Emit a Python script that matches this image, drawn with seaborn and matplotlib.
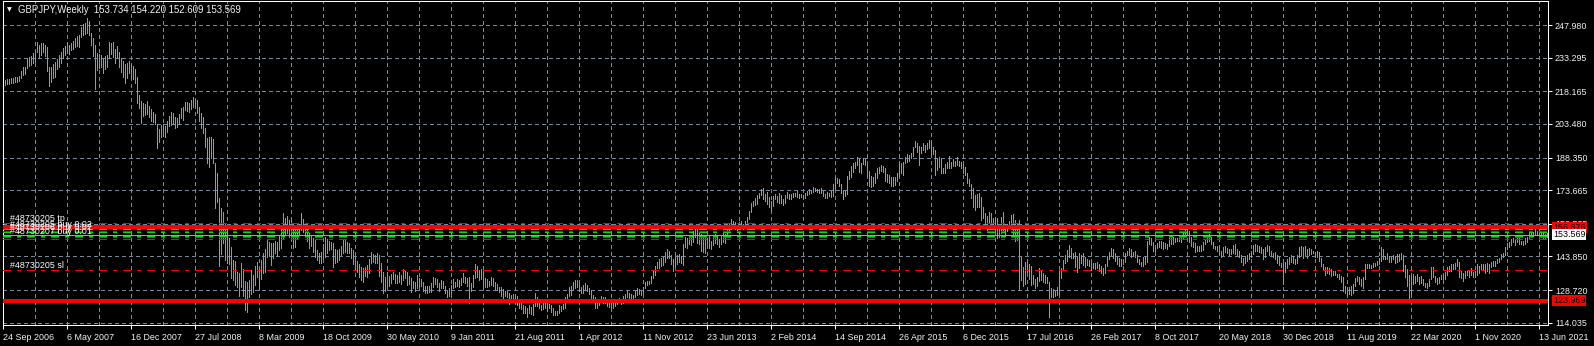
import numpy as np
import pandas as pd
import matplotlib
matplotlib.use("Agg")
import matplotlib.pyplot as plt
import matplotlib.transforms as mtransforms
import seaborn as sns

# ---------------- data (weekly GBPJPY highs / lows) ----------------
hi_2006 = [222.5, 223.2, 223.5, 223.8, 224.0, 224.3, 224.7, 224.5, 225.0, 227.5, 229.2, 229.0, 232.5, 233.6, 234.2]
lo_2006 = [219.8, 221.0, 221.3, 221.5, 221.8, 222.0, 222.5, 222.2, 222.6, 224.0, 225.5, 226.0, 228.6, 229.5, 230.0]

hi_2007 = [235.4, 236.0, 240.5, 239.0, 240.0, 239.7, 239.0, 238.2, 229.2, 229.2, 230.5, 231.5, 232.5,
           234.5, 236.0, 237.5, 238.5, 239.7, 239.0, 239.7, 241.0, 242.0, 243.0, 243.5,
           247.2, 248.5, 249.0, 251.0, 250.0, 244.4, 242.0, 239.0,
           235.4, 235.0, 234.5, 233.0, 234.0, 234.5, 240.4, 240.0, 240.2, 237.0, 238.5,
           236.0, 233.0, 232.0, 230.5, 231.0, 232.0, 230.5, 229.5, 228.0]
lo_2007 = [230.9, 231.5, 236.0, 233.0, 234.5, 236.0, 234.0, 227.5, 220.5, 222.5, 224.0, 224.7, 228.0,
           229.0, 231.0, 233.0, 234.5, 235.4, 235.0, 236.7, 237.0, 238.0, 238.5, 238.0,
           242.7, 243.5, 244.0, 244.2, 243.5, 239.0, 234.0, 219.0,
           227.7, 228.5, 229.2, 226.5, 228.0, 229.0, 233.0, 235.0, 233.5, 231.0, 233.5,
           229.0, 227.0, 224.6, 222.0, 224.0, 226.5, 224.0, 223.5, 221.8]

hi_2008 = [224.6, 216.5, 214.0, 213.0, 212.5, 214.0, 211.5, 210.0, 209.0, 208.0, 203.5, 201.0, 203.0,
           203.5, 202.5, 205.0, 207.0, 209.0, 208.5, 206.5, 206.0, 208.0, 210.5, 211.2, 213.5, 213.5,
           212.7, 214.2, 215.7, 214.5, 214.2, 211.2, 208.5, 206.7, 201.5, 197.0, 197.7, 197.5, 196.5,
           185.7, 181.2, 170.0, 165.5, 164.0, 158.7, 156.0, 152.0, 148.2, 142.2, 142.0, 137.0, 136.5]
lo_2008 = [212.7, 210.5, 204.0, 207.0, 207.5, 208.0, 206.5, 205.0, 204.5, 203.5, 192.5, 195.5, 197.5,
           198.0, 197.6, 200.0, 202.5, 203.0, 203.5, 201.5, 202.0, 203.5, 206.0, 205.2, 209.7, 209.5,
           209.0, 210.0, 211.2, 210.5, 208.2, 205.0, 201.5, 199.5, 193.0, 185.7, 184.2, 188.0, 185.7,
           165.5, 168.5, 139.5, 145.0, 150.0, 142.2, 141.0, 140.5, 134.0, 133.2, 131.0, 130.0, 126.0]

hi_2009 = [141.0, 138.0, 133.0, 132.5, 133.2, 137.7, 135.5, 139.5, 141.5, 138.5, 142.2, 145.5, 147.0,
           151.2, 150.5, 149.7, 150.0, 151.0, 150.2, 153.0, 156.0, 163.2, 161.0, 162.0, 160.2, 160.5,
           158.7, 156.5, 157.0, 158.0, 163.2, 160.5, 158.7, 156.0, 154.2, 153.0, 152.0, 151.2, 146.7,
           145.5, 146.0, 149.5, 152.7, 151.5, 151.0, 150.5, 149.7, 147.0, 146.7, 147.0, 148.5, 151.2]
lo_2009 = [130.0, 126.0, 119.8, 119.0, 125.5, 127.0, 128.0, 131.0, 134.7, 128.7, 133.5, 136.2, 137.0,
           143.8, 144.5, 140.0, 143.0, 145.5, 144.0, 146.7, 147.5, 152.0, 153.5, 154.2, 152.5, 153.0,
           147.5, 148.2, 152.0, 153.5, 155.7, 155.0, 152.5, 151.0, 147.5, 148.5, 146.0, 143.8, 142.2,
           140.7, 141.0, 143.0, 143.8, 145.5, 146.7, 147.0, 139.2, 141.0, 141.5, 142.2, 144.5, 145.2]

hi_2010 = [151.2, 150.5, 150.0, 147.5, 146.7, 143.7, 142.0, 140.5, 139.2, 138.5, 139.0, 139.8, 142.5,
           146.0, 145.0, 144.5, 145.2, 144.5, 140.7, 137.0, 134.5, 137.0, 135.0, 136.0, 137.0,
           136.0, 135.5, 137.0, 135.5, 138.0, 137.5, 137.0, 135.0, 134.0, 133.0, 132.5, 135.5, 134.0,
           133.8, 132.5, 130.5, 130.5, 130.7, 132.0, 134.7, 134.0, 133.5, 132.0, 133.2, 133.0, 130.5, 128.5]
lo_2010 = [146.0, 145.5, 145.2, 143.0, 140.5, 137.7, 137.0, 134.7, 133.2, 132.5, 135.0, 134.5, 136.5,
           140.7, 141.5, 140.7, 141.0, 135.0, 132.5, 127.2, 128.5, 130.2, 130.5, 132.0, 133.5,
           131.7, 132.0, 132.5, 131.5, 133.2, 134.0, 131.0, 131.5, 128.0, 129.5, 128.5, 129.5, 130.2,
           130.5, 128.5, 127.2, 127.5, 128.0, 128.0, 130.2, 131.5, 130.0, 128.5, 129.5, 129.5, 127.5, 125.7]

hi_2011 = [129.5, 131.0, 133.5, 132.5, 133.5, 133.2, 134.0, 136.2, 134.7, 134.0, 134.7, 132.0, 135.5,
           140.4, 139.5, 137.7, 138.0, 137.5, 134.0, 133.5, 133.0, 134.7, 134.0, 132.5, 131.5,
           130.0, 130.2, 129.0, 128.5, 128.5, 127.2, 126.5, 127.0, 126.5, 126.0, 124.0, 122.7, 122.0,
           121.5, 120.5, 122.0, 121.0, 122.5, 127.2, 125.5, 124.0, 122.0, 123.5, 123.0, 122.5, 122.5, 121.8]
lo_2011 = [126.0, 127.5, 129.5, 130.2, 130.5, 130.2, 131.0, 132.5, 131.7, 130.5, 122.7, 128.5, 130.0,
           134.0, 134.5, 133.2, 133.5, 130.5, 130.2, 130.0, 130.5, 131.0, 130.5, 129.0, 128.7,
           127.8, 126.0, 125.0, 126.0, 125.5, 122.5, 123.5, 124.0, 124.5, 122.0, 120.5, 120.0, 118.5,
           118.2, 116.7, 118.5, 118.0, 117.5, 121.5, 121.5, 120.5, 119.7, 120.0, 120.5, 119.5, 120.5, 119.0]

hi_2012 = [120.7, 119.5, 119.5, 122.0, 121.5, 122.5, 125.5, 127.0, 130.0, 130.5, 132.5, 133.2, 133.2,
           132.5, 130.0, 131.0, 131.7, 131.0, 129.5, 128.7, 126.5, 125.5, 123.5, 124.5, 126.0,
           125.5, 125.5, 124.0, 124.5, 123.8, 122.8, 123.5, 124.8, 125.0, 124.0, 126.0, 127.0, 128.5,
           127.5, 127.0, 126.5, 128.2, 129.5, 129.2, 128.5, 130.2, 132.5, 132.8, 133.0, 135.0,
           137.8, 139.5, 141.5]
lo_2012 = [117.5, 117.3, 117.5, 118.5, 119.5, 120.0, 120.5, 124.5, 126.0, 126.5, 128.7, 129.5, 130.0,
           128.5, 127.2, 127.5, 128.8, 128.2, 127.0, 124.5, 123.5, 120.5, 120.8, 122.0, 123.5,
           122.8, 123.0, 121.5, 121.2, 120.8, 120.5, 121.5, 122.5, 123.2, 122.5, 123.0, 124.5, 125.5,
           125.0, 125.2, 124.8, 125.8, 126.5, 126.8, 126.5, 126.8, 129.5, 131.0, 131.5, 132.0,
           134.0, 135.5, 138.5]

hi_2013 = [142.5, 143.0, 143.5, 146.0, 147.0, 146.5, 144.5, 142.5, 143.5, 144.5, 145.0, 144.0, 149.5,
           152.5, 152.0, 153.5, 153.0, 155.5, 156.0, 156.8, 155.0, 154.0, 152.5, 152.0, 152.0,
           153.5, 151.0, 152.5, 154.0, 153.0, 151.5, 153.5, 154.5, 154.0, 157.5, 158.5, 160.5, 160.0,
           159.5, 158.0, 159.5, 160.0, 158.5, 159.8, 161.5, 164.5, 168.0, 169.0, 170.0, 171.5, 172.5, 174.0]
lo_2013 = [138.5, 139.5, 140.0, 141.5, 143.0, 143.0, 140.5, 137.5, 139.0, 140.5, 141.5, 140.8, 140.2,
           148.0, 147.5, 149.5, 149.0, 150.5, 152.5, 150.0, 149.5, 146.5, 146.0, 145.5, 148.5,
           147.5, 147.0, 149.0, 150.0, 149.5, 148.0, 149.5, 150.5, 150.0, 152.5, 155.5, 156.0, 157.0,
           156.0, 155.5, 156.5, 156.5, 156.0, 156.5, 157.5, 160.5, 164.0, 166.5, 167.0, 167.5, 170.0, 171.5]

hi_2014 = [174.5, 172.0, 173.0, 170.5, 169.0, 171.0, 172.0, 171.0, 172.5, 171.5, 169.5, 171.5, 173.0,
           172.0, 172.0, 172.5, 172.5, 173.5, 172.0, 172.0, 171.5, 172.5, 173.5, 174.0, 173.8,
           175.0, 174.5, 174.0, 174.0, 174.5, 173.2, 172.0, 172.8, 172.5, 173.5, 176.5, 179.5, 179.0,
           178.5, 176.5, 173.5, 173.5, 180.0, 182.5, 184.5, 186.0, 186.5, 188.8, 188.0, 186.0, 188.0, 187.5]
lo_2014 = [169.5, 169.0, 167.5, 166.0, 164.5, 166.5, 169.5, 168.5, 168.0, 168.0, 167.0, 168.0, 170.0,
           169.5, 169.8, 170.5, 171.0, 170.5, 170.0, 170.5, 170.0, 170.0, 171.5, 172.0, 172.5,
           173.0, 173.2, 172.8, 172.5, 172.5, 171.0, 170.0, 170.0, 171.0, 170.5, 171.0, 174.5, 177.0,
           175.5, 172.5, 169.5, 171.0, 172.0, 178.5, 179.5, 182.0, 183.5, 185.0, 182.0, 181.5, 185.5, 185.0]

hi_2015 = [185.5, 182.5, 180.0, 179.5, 181.5, 183.5, 184.0, 185.0, 184.5, 183.5, 181.0, 180.5, 179.5,
           179.5, 179.5, 181.5, 185.5, 186.0, 186.5, 188.7, 190.0, 189.5, 190.2, 193.0, 195.8,
           194.7, 193.5, 193.2, 194.7, 194.0, 195.0, 196.2, 195.5, 193.0, 191.7, 188.0, 188.4, 187.5,
           183.5, 185.5, 186.5, 189.0, 186.5, 187.5, 187.0, 188.5, 187.0, 186.5, 185.5, 184.2, 181.2, 178.5]
lo_2015 = [180.0, 175.5, 175.0, 175.5, 177.0, 179.0, 181.5, 182.5, 182.0, 178.0, 177.5, 177.0, 175.5,
           175.5, 176.0, 178.0, 180.0, 181.5, 180.5, 185.7, 186.5, 187.0, 188.0, 189.0, 193.2,
           191.0, 185.0, 190.2, 191.7, 191.0, 192.0, 192.5, 189.5, 189.8, 180.5, 182.7, 184.0, 181.5,
           181.2, 181.5, 183.5, 183.5, 183.5, 184.5, 184.5, 185.0, 184.5, 183.5, 181.2, 180.5, 176.7, 175.5]

hi_2016 = [176.5, 174.5, 171.5, 172.0, 172.5, 170.7, 166.2, 163.5, 162.0, 164.0, 163.5, 161.0, 161.7,
           161.0, 157.0, 161.7, 164.0, 157.5, 158.5, 160.0, 162.5, 163.0, 160.2, 158.7, 160.2,
           143.7, 139.2, 141.5, 142.2, 140.5, 139.5, 135.5, 133.5, 134.5, 138.5, 137.7, 136.5, 135.5,
           134.7, 132.5, 129.5, 129.0, 128.5, 130.2, 137.7, 138.5, 142.2, 144.5, 146.7, 149.0, 147.5, 145.5]
lo_2016 = [170.0, 166.2, 164.8, 166.0, 166.0, 160.2, 161.0, 156.5, 155.0, 159.5, 159.5, 158.0, 155.7,
           152.0, 152.5, 154.2, 155.0, 153.0, 155.5, 156.5, 157.2, 153.0, 151.0, 151.2, 128.8,
           133.2, 130.5, 131.5, 137.0, 133.5, 131.0, 131.5, 129.5, 130.5, 133.0, 133.2, 132.5, 131.7,
           131.7, 116.8, 125.8, 125.5, 126.0, 126.5, 126.5, 134.0, 137.7, 140.7, 142.0, 143.7, 143.0, 143.0]

hi_2017 = [146.0, 143.5, 145.2, 144.5, 145.2, 143.7, 142.5, 142.2, 141.5, 140.7, 141.0, 141.5, 140.5,
           139.5, 138.5, 140.5, 144.0, 146.0, 147.5, 147.2, 145.5, 143.5, 143.0, 142.5, 142.5,
           145.5, 146.5, 147.5, 147.0, 146.0, 146.5, 144.5, 142.5, 141.5, 143.5, 143.5, 151.0, 152.8,
           152.0, 150.5, 149.0, 150.0, 151.0, 151.0, 150.5, 150.0, 149.5, 152.0, 152.5, 152.5,
           152.0, 152.2, 153.0]
lo_2017 = [139.2, 137.0, 138.5, 140.7, 140.0, 139.2, 140.0, 139.5, 137.7, 138.5, 138.0, 138.5, 137.5,
           136.5, 135.6, 136.5, 139.5, 142.5, 144.5, 143.0, 142.0, 140.5, 139.5, 139.5, 140.5,
           141.5, 144.5, 144.5, 143.5, 144.0, 143.5, 141.5, 140.5, 139.5, 139.5, 140.5, 141.5, 149.5,
           149.0, 146.5, 146.5, 147.5, 148.0, 147.5, 147.0, 147.5, 147.0, 148.5, 149.5, 149.5,
           150.5, 151.0, 151.0]

hi_2018 = [153.5, 154.5, 156.6, 156.0, 155.5, 152.5, 150.5, 150.0, 148.5, 148.5, 149.0, 150.5, 151.5,
           152.5, 154.0, 152.5, 150.5, 148.5, 148.5, 148.0, 146.5, 148.0, 148.5, 147.5, 147.0,
           147.0, 149.0, 149.5, 147.0, 146.5, 144.5, 143.0, 144.0, 144.5, 145.5, 146.5, 149.0, 149.5,
           149.0, 148.5, 148.0, 147.0, 148.0, 149.0, 148.5, 146.5, 145.5, 146.0, 144.5, 143.5, 141.0, 141.0]
lo_2018 = [150.5, 151.5, 153.5, 153.5, 150.5, 148.5, 148.0, 146.0, 146.5, 146.5, 146.5, 146.8, 149.5,
           150.5, 151.0, 149.5, 147.5, 147.0, 146.5, 145.0, 143.5, 144.5, 146.0, 145.5, 144.5,
           145.0, 145.5, 145.0, 144.5, 143.5, 141.5, 140.0, 141.0, 142.0, 142.5, 143.5, 145.0, 146.5,
           146.5, 146.0, 145.5, 142.8, 143.5, 146.5, 144.5, 144.0, 143.5, 142.5, 141.0, 140.0, 139.0, 131.6]

hi_2019 = [141.5, 142.5, 143.5, 144.5, 144.0, 142.5, 144.5, 148.0, 148.5, 148.0, 148.5, 147.0, 147.5,
           147.0, 146.5, 146.0, 146.5, 146.0, 143.0, 140.5, 139.0, 139.0, 138.5, 138.0, 137.5,
           137.5, 136.0, 136.0, 135.0, 134.5, 130.5, 130.0, 130.0, 130.5, 131.5, 134.0, 135.0, 134.5,
           133.5, 134.5, 140.5, 140.5, 140.5, 140.0, 141.0, 141.0, 141.8, 143.0, 147.9, 147.0, 144.0, 145.5]
lo_2019 = [137.0, 138.5, 140.5, 141.5, 141.0, 140.5, 141.0, 143.5, 144.5, 143.0, 144.5, 143.0, 144.5,
           145.0, 145.5, 143.5, 143.5, 142.0, 139.5, 138.0, 135.5, 136.5, 136.0, 135.0, 135.5,
           135.5, 134.5, 133.5, 132.5, 128.5, 127.5, 126.5, 127.0, 126.6, 127.5, 130.5, 133.0, 131.5,
           130.5, 129.5, 133.5, 138.5, 138.5, 138.5, 139.0, 139.5, 140.0, 140.5, 142.0, 142.5, 142.5, 142.5]

hi_2020 = [144.0, 143.5, 144.5, 144.0, 145.0, 145.0, 145.5, 144.5, 140.0, 138.0, 135.5, 135.5, 136.0,
           135.0, 136.0, 134.5, 135.0, 133.5, 132.0, 132.0, 133.5, 139.0, 139.0, 135.0, 134.0,
           134.5, 135.5, 135.5, 137.0, 139.0, 139.5, 140.5, 140.5, 141.0, 142.5, 141.5, 137.5, 136.5,
           137.5, 137.5, 137.5, 138.5, 137.0, 137.5, 140.5, 139.5, 140.5, 140.5, 140.5, 141.0, 140.5, 141.5]
lo_2020 = [141.5, 141.5, 142.5, 141.0, 141.5, 142.0, 142.5, 137.5, 134.5, 130.5, 124.0, 126.5, 131.5,
           132.0, 133.0, 131.5, 132.0, 131.0, 130.0, 129.5, 130.5, 133.5, 134.5, 132.5, 131.5,
           132.0, 133.5, 133.5, 133.5, 135.5, 137.5, 137.5, 138.0, 138.0, 139.5, 134.5, 134.0, 133.0,
           134.0, 135.5, 134.5, 135.5, 134.5, 134.5, 135.5, 136.5, 138.0, 138.0, 136.5, 137.5, 136.5, 139.0]

hi_2021 = [142.0, 142.0, 142.5, 143.0, 145.0, 145.5, 148.0, 150.0, 150.5, 151.5, 152.0, 151.5, 152.5,
           152.5, 151.0, 151.0, 152.0, 152.5, 154.5, 154.5, 155.0, 156.0, 155.5, 156.0, 155.5,
           154.5, 154.0, 154.220]
lo_2021 = [139.5, 139.5, 141.0, 141.5, 142.5, 143.5, 144.5, 147.0, 148.0, 149.0, 150.5, 149.0, 150.5,
           149.5, 149.5, 149.0, 149.5, 150.5, 151.5, 152.5, 153.0, 153.5, 153.5, 152.5, 152.5,
           152.0, 151.5, 152.609]

# last bar (title)
last_ohlc = [153.734, 154.220, 152.609, 153.569]
symbol_title = "GBPJPY,Weekly"

# price axis ticks and date labels (every 32 weeks)
price_ticks = [114.035, 128.720, 143.850, 158.535, 173.665, 188.350, 203.480, 218.165, 233.295, 247.980]
date_labels = ["24 Sep 2006", "6 May 2007", "16 Dec 2007", "27 Jul 2008", "8 Mar 2009", "18 Oct 2009",
               "30 May 2010", "9 Jan 2011", "21 Aug 2011", "1 Apr 2012", "11 Nov 2012", "23 Jun 2013",
               "2 Feb 2014", "14 Sep 2014", "26 Apr 2015", "6 Dec 2015", "17 Jul 2016", "26 Feb 2017",
               "8 Oct 2017", "20 May 2018", "30 Dec 2018", "11 Aug 2019", "22 Mar 2020", "1 Nov 2020",
               "13 Jun 2021"]

# horizontal levels
solid_red_levels = [156.876, 123.969]
bid_level = 153.569
green_order_levels = [155.97, 154.70, 153.10]
red_order_levels = [158.77, 155.38, 152.47, 151.70, 137.60]
order_label_texts = ["#48730205 tp", "#48730205 buy 0.02", "#48730206 buy 0.02", "#48730207 buy 0.01", "#48730205 sl"]
order_label_levels = [158.77, 155.97, 154.70, 153.10, 137.60]

# ---------------- build table ----------------
highs = np.array(hi_2006 + hi_2007 + hi_2008 + hi_2009 + hi_2010 + hi_2011 + hi_2012 + hi_2013 +
                 hi_2014 + hi_2015 + hi_2016 + hi_2017 + hi_2018 + hi_2019 + hi_2020 + hi_2021)
lows = np.array(lo_2006 + lo_2007 + lo_2008 + lo_2009 + lo_2010 + lo_2011 + lo_2012 + lo_2013 +
                lo_2014 + lo_2015 + lo_2016 + lo_2017 + lo_2018 + lo_2019 + lo_2020 + lo_2021)
n = min(len(highs), len(lows))
highs, lows = highs[:n], lows[:n]
weeks = np.arange(n)
df = pd.DataFrame({"week": np.repeat(weeks, 2),
                   "price": np.column_stack([lows, highs]).ravel()})

# ---------------- style ----------------
sns.set_theme(style="dark", rc={"axes.facecolor": "black", "figure.facecolor": "black"})
plt.rcParams["font.family"] = ["Liberation Sans", "DejaVu Sans"]
plt.rcParams["lines.scale_dashes"] = False

W, H = 1594, 346
TXT = "#F2F2F2"
GRID = "#778899"
BAR = "#2CE62C"
FS = 6.4

fig = plt.figure(figsize=(W / 100, H / 100), dpi=100, facecolor="black")
L, R, T, B = 3, 1548, 1, 325
ax = fig.add_axes([L / W, 1 - B / H, (R - L) / W, (B - T) / H])
ax.set_facecolor("black")

sns.lineplot(data=df, x="week", y="price", units="week", estimator=None, sort=False,
             color=BAR, linewidth=0.55, antialiased=False, ax=ax, legend=False, zorder=2)

ppx = 2.22255
ax.set_ylim(114.035 - (B - 322.7) / ppx, 247.980 + (25 - T) / ppx)
ax.set_xlim(0, 772.5)
ax.set_xlabel("")
ax.set_ylabel("")

# grid
grid_dash = (0, (2.2, 2.2))
for v in price_ticks:
    ax.axhline(v, color=GRID, lw=0.7, ls=grid_dash, zorder=0.5, antialiased=False)
for k in range(1, 49):
    ax.axvline(16 * k, color=GRID, lw=0.7, ls=grid_dash, zorder=0.5, antialiased=False)

# order / price lines
order_dash = (0, (5.4, 4.6, 2.2, 4.4))
for v in red_order_levels:
    ax.axhline(v, color="#FF0000", lw=0.7, ls=order_dash, zorder=3, antialiased=False)
for v in green_order_levels:
    ax.axhline(v, color="#00E000", lw=0.7, ls=order_dash, zorder=3, antialiased=False)
ax.axhline(bid_level, color="#9AA4AE", lw=0.7, zorder=3, antialiased=False)
for v in solid_red_levels:
    ax.axhline(v, color="#FF0000", lw=1.45, zorder=3.5, antialiased=False)

trans = mtransforms.blended_transform_factory(ax.transAxes, ax.transData)
for txt, v in zip(order_label_texts, order_label_levels):
    ax.text((10 - L) / (R - L), v, txt, transform=trans, color="white", fontsize=FS,
            ha="left", va="bottom", zorder=4)

# axes frame + ticks
for sp in ax.spines.values():
    sp.set_visible(True)
    sp.set_color("white")
    sp.set_linewidth(0.75)

ax.set_yticks(price_ticks)
ax.set_yticklabels([f"{v:.3f}" for v in price_ticks])
ax.tick_params(axis="y", left=False, labelleft=False, right=True, labelright=True,
               direction="out", length=3, width=0.75, color="white", pad=2,
               labelcolor=TXT, labelsize=FS)
ax.set_xticks(list(range(0, 32 * len(date_labels), 32)))
ax.set_xticklabels(date_labels)
ax.tick_params(axis="x", bottom=True, labelbottom=True, direction="out", length=3, width=0.75,
               color="white", pad=2.5, labelcolor=TXT, labelsize=FS)
for lab in ax.get_xticklabels():
    lab.set_horizontalalignment("left")

# right-side price boxes
bx = (1553 - L) / (R - L)
for v in solid_red_levels:
    ax.text(bx, v, f"{v:.3f}", transform=trans, color="black", fontsize=FS, ha="left", va="center",
            zorder=6, clip_on=False,
            bbox=dict(boxstyle="square,pad=0.12", fc="#FF0000", ec="none"))
ax.text(bx, bid_level, f"{bid_level:.3f}", transform=trans, color="black", fontsize=FS, ha="left",
        va="center", zorder=6, clip_on=False,
        bbox=dict(boxstyle="square,pad=0.12", fc="white", ec="none"))

# title
fig.text(7 / W, 1 - 10 / H, "\u25BC", color="white", fontsize=4.5, ha="left", va="center",
         family=["DejaVu Sans"])
fig.text(18 / W, 1 - 10 / H,
         f"{symbol_title}  " + " ".join(f"{v:.3f}" for v in last_ohlc),
         color=TXT, fontsize=6.9, ha="left", va="center")

fig.savefig("out.png", dpi=100, facecolor="black")
